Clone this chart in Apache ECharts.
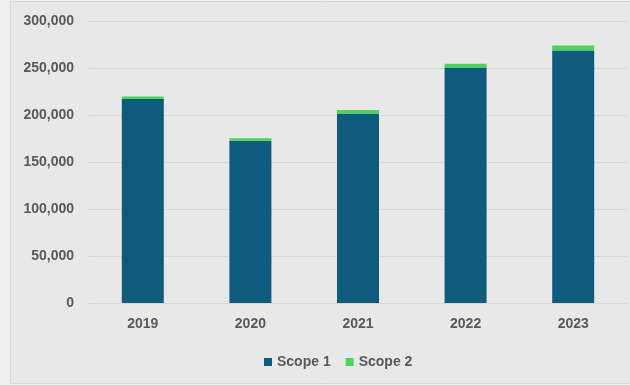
<!DOCTYPE html>
<html>
<head>
<meta charset="utf-8">
<script src="https://cdn.jsdelivr.net/npm/echarts@6/dist/echarts.min.js"></script>
<style>
  html, body { margin: 0; padding: 0; background: #efefef; }
  #chart { width: 630px; height: 385px; }
</style>
</head>
<body>
<div id="chart"></div>
<script>
const years = ['2019', '2020', '2021', '2022', '2023']
const scope1 = [217500, 173000, 202000, 251000, 269000]
const scope2 = [2600, 2600, 3800, 3900, 5300]

const textColor = '#595959'
const font = '"Liberation Sans", Arial, sans-serif'

const chart = echarts.init(document.getElementById('chart'))
chart.setOption({
  backgroundColor: '#efefef',
  animation: false,
  graphic: [{
    type: 'rect',
    z: -10,
    shape: { x: 10.5, y: 1.5, width: 630, height: 382 },
    style: { fill: '#e8e8e8', stroke: '#d6d6d6', lineWidth: 1 }
  }],
  grid: { left: 89, right: 3, top: 21.5, bottom: 82, containLabel: false },
  legend: {
    data: ['Scope 1', 'Scope 2'],
    left: 259,
    top: 350,
    itemWidth: 8,
    itemHeight: 8,
    itemGap: 15,
    icon: 'rect',
    textStyle: { color: textColor, fontSize: 14, fontWeight: 'bold', fontFamily: font }
  },
  xAxis: {
    type: 'category',
    data: years,
    axisLine: { show: false },
    axisTick: { show: false },
    axisLabel: { color: textColor, fontSize: 14, fontWeight: 'bold', fontFamily: font, margin: 14 }
  },
  yAxis: {
    type: 'value',
    min: 0,
    max: 300000,
    interval: 50000,
    axisLine: { show: false },
    axisTick: { show: false },
    splitLine: { lineStyle: { color: '#d6d6d6', width: 1 } },
    axisLabel: {
      color: textColor, fontSize: 14, fontWeight: 'bold', fontFamily: font, margin: 15,
      formatter: (v) => v.toLocaleString('en-US')
    }
  },
  series: [
    { name: 'Scope 1', type: 'bar', stack: 'total', data: scope1, barWidth: 42, itemStyle: { color: '#0e5b7d' } },
    { name: 'Scope 2', type: 'bar', stack: 'total', data: scope2, barWidth: 42, itemStyle: { color: '#4cd45a' } }
  ]
})
</script>
</body>
</html>
